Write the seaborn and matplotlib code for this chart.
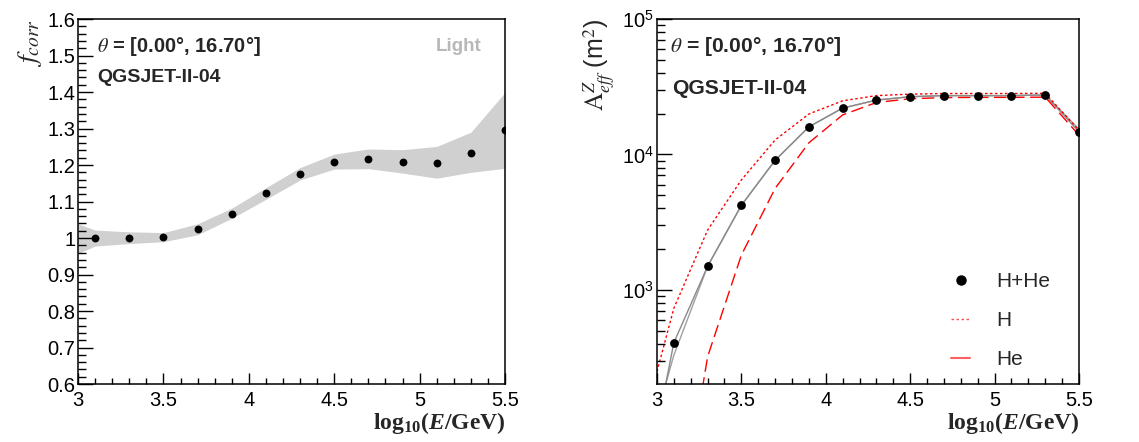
import numpy as np
import pandas as pd
import matplotlib
matplotlib.use("Agg")
import matplotlib.pyplot as plt
import seaborn as sns
from matplotlib.ticker import MultipleLocator, LogLocator, LogFormatterMathtext, NullFormatter, FixedLocator
from matplotlib.lines import Line2D

# ---------------- data ----------------
energy = [3.1, 3.3, 3.5, 3.7, 3.9, 4.1, 4.3, 4.5, 4.7, 4.9, 5.1, 5.3, 5.5]
fcorr = [1.000, 1.001, 1.003, 1.024, 1.067, 1.123, 1.175, 1.209, 1.217, 1.209, 1.206, 1.233, 1.295]

band_x = [3.0, 3.1, 3.3, 3.5, 3.7, 3.9, 4.1, 4.3, 4.5, 4.7, 4.9, 5.1, 5.3, 5.5]
band_hi = [1.039, 1.022, 1.017, 1.015, 1.039, 1.082, 1.138, 1.193, 1.230, 1.244, 1.242, 1.251, 1.290, 1.399]
band_lo = [0.958, 0.978, 0.985, 0.990, 1.009, 1.054, 1.106, 1.159, 1.189, 1.190, 1.178, 1.164, 1.180, 1.191]

aeff_hhe = [408, 1496, 4217, 9060, 16000, 22000, 25200, 26700, 27200, 27200, 27200, 27500, 14700]

line_x = [3.0, 3.1, 3.3, 3.5, 3.7, 3.9, 4.1, 4.3, 4.5, 4.7, 4.9, 5.1, 5.3, 5.5]
aeff_hhe_line = [95, 408, 1496, 4217, 9060, 16000, 22000, 25200, 26700, 27200, 27200, 27200, 27500, 14700]
aeff_hhe_line2 = [120, 330, 1496, 4217, 9060, 16000, 22000, 25200, 26700, 27200, 27200, 27200, 27500, 15400]
aeff_h = [250, 733, 2770, 6490, 12800, 19900, 24900, 27200, 27900, 28200, 28200, 28200, 28300, 15100]
aeff_he = [2, 10, 322, 1810, 5620, 12200, 19600, 24200, 25800, 26300, 26400, 26400, 26500, 13900]

xticks = [3, 3.5, 4, 4.5, 5, 5.5]
xticklabels = ["3", "3.5", "4", "4.5", "5", "5.5"]
fticks = [0.6, 0.7, 0.8, 0.9, 1.0, 1.1, 1.2, 1.3, 1.4, 1.5, 1.6]
fticklabels = ["0.6", "0.7", "0.8", "0.9", "1", "1.1", "1.2", "1.3", "1.4", "1.5", "1.6"]

# ---------------- style ----------------
sns.set_style("ticks", {"axes.axisbelow": False})
plt.rcParams["font.family"] = ["Liberation Sans", "DejaVu Sans"]
plt.rcParams["mathtext.fontset"] = "custom"
plt.rcParams["mathtext.rm"] = "Liberation Serif:bold"
plt.rcParams["mathtext.it"] = "Liberation Serif:italic:bold"
plt.rcParams["mathtext.bf"] = "Liberation Serif:bold"
plt.rcParams["mathtext.sf"] = "Liberation Sans"

fig = plt.figure(figsize=(11.39, 4.42), dpi=100)
ax1 = fig.add_axes([0.0685, 0.131, 0.3749, 0.826])
ax2 = fig.add_axes([0.5768, 0.131, 0.3705, 0.826])

for ax in (ax1, ax2):
    ax.set_axisbelow(False)
    for s in ax.spines.values():
        s.set_visible(True)
        s.set_color("black")
        s.set_linewidth(1.1)
    ax.set_xlim(3, 5.5)
    ax.set_xticks(xticks)
    ax.set_xticklabels(xticklabels)
    ax.xaxis.set_minor_locator(MultipleLocator(0.1))

# ---------------- left panel ----------------
ax1.fill_between(band_x, band_lo, band_hi, color="#d0d0d0", linewidth=0, zorder=1)
sns.scatterplot(x=energy, y=fcorr, ax=ax1, color="black", s=32, edgecolor="black",
                linewidth=0, zorder=3, legend=False)
ax1.set_ylim(0.6, 1.6)
ax1.set_yticks(fticks)
ax1.set_yticklabels(fticklabels)
ax1.yaxis.set_minor_locator(MultipleLocator(0.02))

ax1.set_ylabel(r"$f_{corr}$", fontsize=20, loc="top", labelpad=2)
ax1.yaxis.label.set_math_fontfamily("stix")
ax1.set_xlabel(r"$\mathrm{log_{10}(}E\mathrm{/GeV)}$", fontsize=17, loc="right", labelpad=0)

ax1.text(0.045, 0.925, r"$\theta$ = [0.00°, 16.70°]", transform=ax1.transAxes,
         fontsize=14.5, fontweight="bold", math_fontfamily="stix", va="center")
ax1.text(0.045, 0.84, "QGSJET-II-04", transform=ax1.transAxes,
         fontsize=14, fontweight="bold", va="center")
ax1.text(0.945, 0.925, "Light", transform=ax1.transAxes, fontsize=13.5,
         fontweight="bold", color="#b8b8b8", ha="right", va="center")

# ---------------- right panel ----------------
ax2.set_yscale("log")
sns.lineplot(x=line_x, y=aeff_hhe_line2, ax=ax2, color="#a0a0a0", linewidth=1.0,
             sort=False, zorder=2, legend=False)
sns.lineplot(x=line_x, y=aeff_hhe_line, ax=ax2, color="#8a8a8a", linewidth=1.0,
             sort=False, zorder=2, legend=False)
sns.lineplot(x=line_x, y=aeff_h, ax=ax2, color="red", linewidth=1.0,
             sort=False, zorder=2, legend=False)
ax2.lines[-1].set_dashes((1.8, 1.8))
sns.lineplot(x=line_x, y=aeff_he, ax=ax2, color="red", linewidth=1.0,
             sort=False, zorder=2, legend=False)
ax2.lines[-1].set_dashes((9, 4))
sns.scatterplot(x=energy, y=aeff_hhe, ax=ax2, color="black", s=40, edgecolor="black",
                linewidth=0, zorder=3, legend=False)

ax2.set_ylim(202, 1e5)
ax2.yaxis.set_major_locator(FixedLocator([1e3, 1e4, 1e5]))
ax2.yaxis.set_major_formatter(LogFormatterMathtext())
ax2.yaxis.set_minor_locator(LogLocator(base=10, subs=np.arange(2, 10), numticks=20))
ax2.yaxis.set_minor_formatter(NullFormatter())

for ax in (ax1, ax2):
    ax.tick_params(axis="both", which="both", direction="in", top=False, right=False,
                   bottom=True, left=True, color="black", labelcolor="black",
                   labelsize=14.5, width=1.0)
    ax.tick_params(axis="x", which="major", length=8, pad=5)
    ax.tick_params(axis="x", which="minor", length=4)
    ax.tick_params(axis="y", which="major", length=11, pad=2)
    ax.tick_params(axis="y", which="minor", length=5.5)

for lbl in ax2.get_yticklabels():
    lbl.set_math_fontfamily("dejavusans")

ax2.set_ylabel(r"$\mathrm{A}^{\mathit{Z}}_{\mathit{eff}}$ (m$^{2}$)", fontsize=18,
               loc="top", labelpad=4)
ax2.yaxis.label.set_math_fontfamily("stix")
ax2.set_xlabel(r"$\mathrm{log_{10}(}E\mathrm{/GeV)}$", fontsize=17, loc="right", labelpad=0)

ax2.text(0.03, 0.925, r"$\theta$ = [0.00°, 16.70°]", transform=ax2.transAxes,
         fontsize=15.2, fontweight="bold", math_fontfamily="stix", va="center")
ax2.text(0.035, 0.81, "QGSJET-II-04", transform=ax2.transAxes,
         fontsize=15.2, fontweight="bold", va="center")

handles = [
    Line2D([], [], color="black", marker="o", linestyle="none", markersize=6.5),
    Line2D([], [], color="#ff5050", linewidth=1.0, dashes=(1.8, 1.8)),
    Line2D([], [], color="#ff6060", linewidth=1.5),
]
leg = ax2.legend(handles, ["H+He", "H", "He"], loc="lower right",
                 bbox_to_anchor=(0.977, -0.01), frameon=False, fontsize=15,
                 handlelength=0.95, handletextpad=1.25, labelspacing=0.95)

fig.savefig("out.png", dpi=100)
